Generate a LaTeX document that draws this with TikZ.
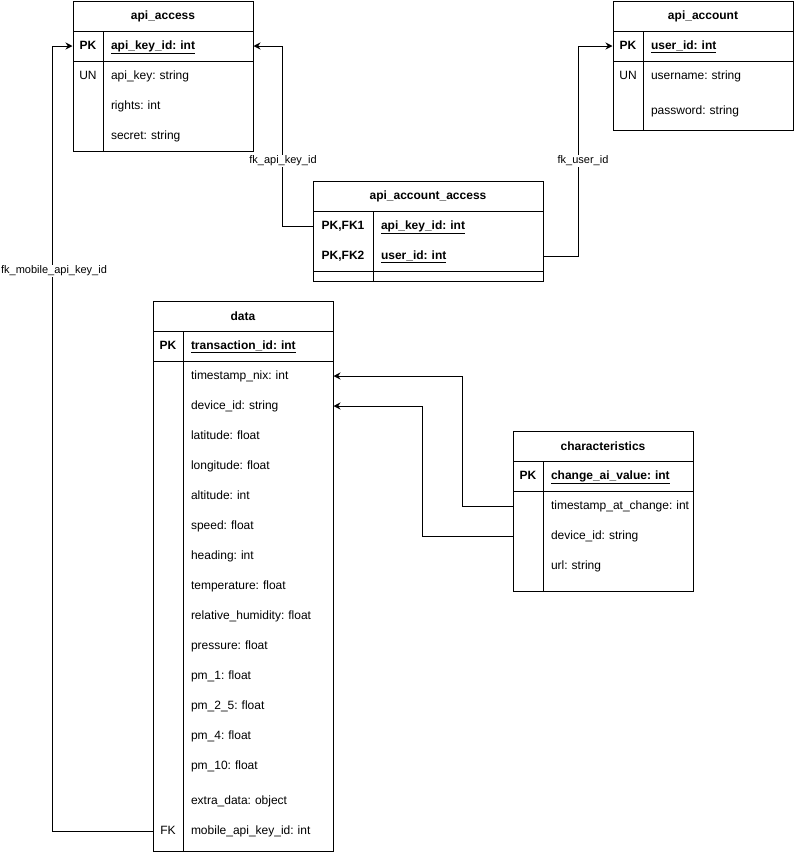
\documentclass[tikz,border=0pt,12pt]{standalone}
\usepackage{fontspec}
\setmainfont{Liberation Sans}
\usetikzlibrary{arrows.meta}
\frenchspacing

\begin{document}
\begin{tikzpicture}[x=1pt, y=-1pt, line width=1pt,
    title/.style={font=\bfseries, inner sep=0pt},
    keycell/.style={minimum width=30pt, minimum height=30pt, inner sep=0pt, text height=9pt, text depth=3pt},
    keybold/.style={keycell, font=\bfseries},
    field/.style={minimum width=150pt, minimum height=30pt, inner xsep=8pt, inner ysep=0pt, text width=134pt, align=left, text height=9pt, text depth=3pt},
    pkfield/.style={field, font=\bfseries},
    fk/.style={-{Stealth[length=7pt, width=7pt]}},
    lbl/.style={fill=white, inner sep=1pt, font=\fontsize{11}{13}\selectfont}]
  \useasboundingbox (0,0) rectangle (794,852);

  % api_access
  \draw (73,1) rectangle (253,151);
  \draw (73,31) -- (253,31) (73,61) -- (253,61) (103,31) -- (103,151);
  \node[title] (acc) at (163,16) {api\_access};
  \node[keybold] (acc-pk-k) at (88,46) {PK};
  \node[pkfield] (acc-pk) at (178,46) {\underline{api\_key\_id: int}};
  \node[keycell] (acc-un-k) at (88,76) {UN};
  \node[field] (acc-key) at (178,76) {api\_key: string};
  \node[field] (acc-rights) at (178,106) {rights: int};
  \node[field] (acc-secret) at (178,136) {secret: string};

  % api_account
  \draw (613,1) rectangle (793,130);
  \draw (613,31) -- (793,31) (613,61) -- (793,61) (643,31) -- (643,130);
  \node[title] (acct) at (703,16) {api\_account};
  \node[keybold] (acct-pk-k) at (628,46) {PK};
  \node[pkfield] (acct-pk) at (718,46) {\underline{user\_id: int}};
  \node[keycell] (acct-un-k) at (628,76) {UN};
  \node[field] (acct-name) at (718,76) {username: string};
  \node[field] (acct-pass) at (718,111) {password: string};

  % api_account_access
  \draw (313,181) rectangle (543,281);
  \draw (313,211) -- (543,211) (313,271) -- (543,271) (373,211) -- (373,281);
  \node[title] (aaa) at (428,196) {api\_account\_access};
  \node[keybold, minimum width=60pt] (aaa-fk1-k) at (343,226) {PK,FK1};
  \node[pkfield, minimum width=170pt, text width=154pt] (aaa-fk1) at (458,226) {\underline{api\_key\_id: int}};
  \node[keybold, minimum width=60pt] (aaa-fk2-k) at (343,256) {PK,FK2};
  \node[pkfield, minimum width=170pt, text width=154pt] (aaa-fk2) at (458,256) {\underline{user\_id: int}};

  % data
  \draw (153,301) rectangle (333,851);
  \draw (153,331) -- (333,331) (153,361) -- (333,361) (183,331) -- (183,851);
  \node[title] (data) at (243,316) {data};
  \node[keybold] (data-pk-k) at (168,346) {PK};
  \node[pkfield] (data-pk) at (258,346) {\underline{transaction\_id: int}};
  \node[field] (data-ts) at (258,376) {timestamp\_nix: int};
  \node[field] (data-dev) at (258,406) {device\_id: string};
  \node[field] (data-lat) at (258,436) {latitude: float};
  \node[field] (data-lon) at (258,466) {longitude: float};
  \node[field] (data-alt) at (258,496) {altitude: int};
  \node[field] (data-speed) at (258,526) {speed: float};
  \node[field] (data-head) at (258,556) {heading: int};
  \node[field] (data-temp) at (258,586) {temperature: float};
  \node[field] (data-hum) at (258,616) {relative\_humidity: float};
  \node[field] (data-pres) at (258,646) {pressure: float};
  \node[field] (data-pm1) at (258,676) {pm\_1: float};
  \node[field] (data-pm25) at (258,706) {pm\_2\_5: float};
  \node[field] (data-pm4) at (258,736) {pm\_4: float};
  \node[field] (data-pm10) at (258,766) {pm\_10: float};
  \node[field] (data-extra) at (258,801) {extra\_data: object};
  \node[keycell] (data-fk-k) at (168,831) {FK};
  \node[field] (data-fk) at (258,831) {mobile\_api\_key\_id: int};

  % characteristics
  \draw (513,431) rectangle (693,591);
  \draw (513,461) -- (693,461) (513,491) -- (693,491) (543,461) -- (543,591);
  \node[title] (char) at (603,446) {characteristics};
  \node[keybold] (char-pk-k) at (528,476) {PK};
  \node[pkfield] (char-pk) at (618,476) {\underline{change\_ai\_value: int}};
  \node[keycell] (char-ts-k) at (528,506) {};
  \node[field] (char-ts) at (618,506) {\mbox{timestamp\_at\_change: int}};
  \node[keycell] (char-dev-k) at (528,536) {};
  \node[field] (char-dev) at (618,536) {device\_id: string};
  \node[field] (char-url) at (618,566) {url: string};

  % relations
  \draw[fk] (aaa-fk1-k.west) -- ++(-30,0) |- (acc-pk.east);
  \draw[fk] (aaa-fk2.east) -- ++(35,0) |- (acct-pk-k.west);
  \draw[fk] (data-fk-k.west) -- ++(-100,0) |- (acc-pk-k.west);
  \draw[fk] (char-ts-k.west) -- ++(-50,0) |- (data-ts.east);
  \draw[fk] (char-dev-k.west) -- ++(-90,0) |- (data-dev.east);

  \node[lbl] (lbl-key) at (283,161) {fk\_api\_key\_id};
  \node[lbl] (lbl-user) at (583,161) {fk\_user\_id};
  \node[lbl] (lbl-mobile) at (54,271) {fk\_mobile\_api\_key\_id};
\end{tikzpicture}
\end{document}
